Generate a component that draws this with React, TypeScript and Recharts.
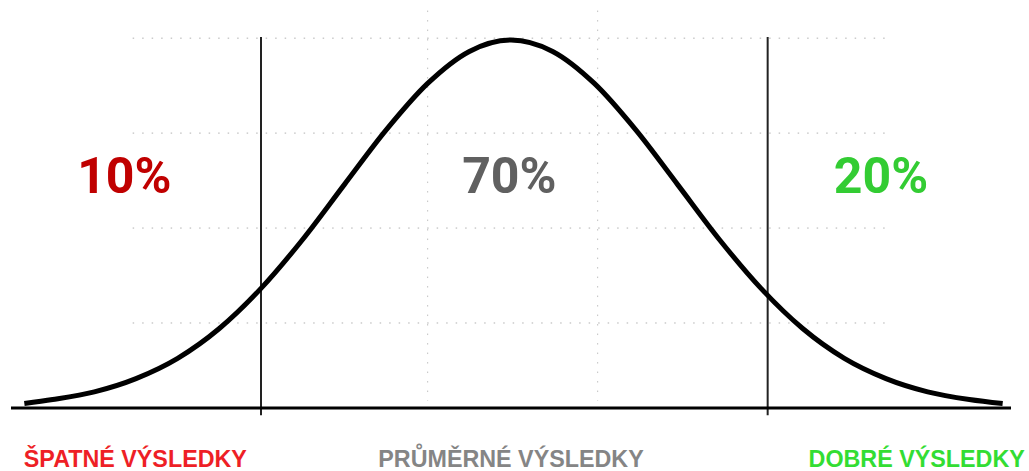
import React from "react";
import {
  LineChart,
  Line,
  XAxis,
  YAxis,
  ReferenceLine,
  ReferenceDot,
} from "recharts";

// bell curve (height in % of peak)
const zValues = [
  -2.92, -2.75, -2.5, -2.25, -2, -1.75, -1.5, -1.25, -1, -0.75, -0.5, -0.25, 0,
  0.25, 0.5, 0.75, 1, 1.25, 1.5, 1.75, 2, 2.25, 2.5, 2.75, 2.95,
];
const heights = [
  1.2, 2.3, 4.4, 8.0, 13.5, 21.6, 32.5, 45.8, 60.7, 75.5, 88.2, 96.9, 100,
  96.9, 88.2, 75.5, 60.7, 45.8, 32.5, 21.6, 13.5, 8.0, 4.4, 2.3, 1.2,
];

const cutoffs = [-1.5, 1.54];
const gridRows = [100.5, 74.7, 48.9, 23.1];
const gridCols = [-0.5, 0.52];

const shares = ["10%", "70%", "20%"];
const shareX = [-2.32, -0.01, 2.22];
const shareColors = ["#c00000", "#606060", "#33cc33"];

const groups = ["ŠPATNÉ VÝSLEDKY", "PRŮMĚRNÉ VÝSLEDKY", "DOBRÉ VÝSLEDKY"];
const groupX = [-2.254, 0, 2.434];
const groupColors = ["#ee1f26", "#858585", "#33dd33"];

const data = zValues.map((z, i) => ({ z, h: heights[i] }));

const GroupTick = ({ x, y, payload }: any) => {
  const i = groupX.indexOf(payload.value);
  return (
    <text
      x={x}
      y={y}
      dy={59}
      textAnchor="middle"
      fill={groupColors[i]}
      fontFamily="'Liberation Sans', Arial, sans-serif"
      fontSize={23.3}
      fontWeight={700}
    >
      {groups[i]}
    </text>
  );
};

export default function App() {
  return (
    <div style={{ position: "absolute", left: 0, top: 0, background: "#fff" }}>
      <LineChart
        width={1029}
        height={471}
        data={data}
        margin={{ top: 40, right: 18, left: 11, bottom: 0 }}
      >
        <XAxis
          dataKey="z"
          type="number"
          domain={[-3, 3]}
          ticks={groupX}
          tick={<GroupTick />}
          interval={0}
          tickLine={false}
          tickSize={0}
          tickMargin={0}
          height={63}
          axisLine={{ stroke: "#000", strokeWidth: 3 }}
        />
        <YAxis type="number" domain={[0, 100]} hide />
        {gridRows.map((v) => (
          <ReferenceLine
            key={"r" + v}
            segment={[
              { x: -2.27, y: v },
              { x: 2.27, y: v },
            ]}
            stroke="#b0b0b0"
            strokeDasharray="1.5 8"
            ifOverflow="visible"
          />
        ))}
        {gridCols.map((v) => (
          <ReferenceLine
            key={"c" + v}
            segment={[
              { x: v, y: 108 },
              { x: v, y: 2 },
            ]}
            stroke="#c0c0c0"
            strokeDasharray="1.5 8"
            ifOverflow="visible"
          />
        ))}
        {cutoffs.map((v) => (
          <ReferenceLine
            key={"k" + v}
            segment={[
              { x: v, y: 100.8 },
              { x: v, y: -2 },
            ]}
            stroke="#222"
            strokeWidth={2}
            ifOverflow="visible"
          />
        ))}
        <Line
          type="monotone"
          dataKey="h"
          stroke="#000"
          strokeWidth={5}
          dot={false}
          isAnimationActive={false}
        />
        {shares.map((s, i) => (
          <ReferenceDot
            key={s}
            x={shareX[i]}
            y={63.3}
            r={0}
            fill="none"
            stroke="none"
            label={{
              value: s,
              position: "center",
              fill: shareColors[i],
              fontSize: 50,
              fontWeight: 700,
              fontFamily: "Roboto, sans-serif",
            }}
          />
        ))}
      </LineChart>
    </div>
  );
}
